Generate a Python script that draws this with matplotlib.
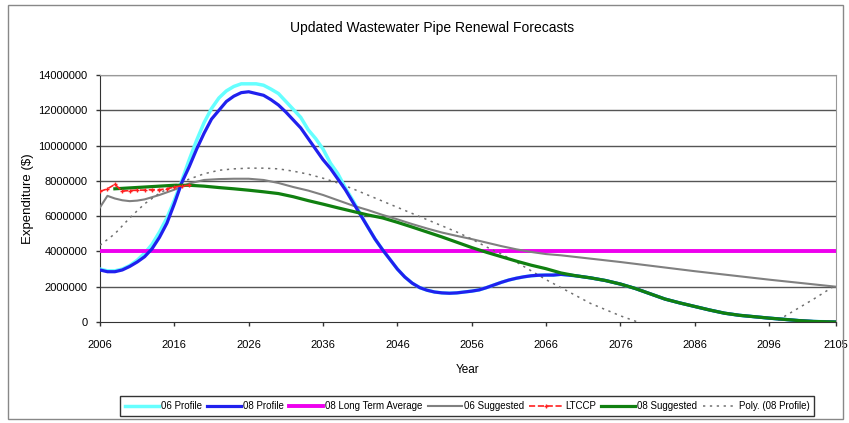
import matplotlib
matplotlib.use("Agg")
import matplotlib.pyplot as plt
from matplotlib.patches import Rectangle

plt.rcParams['font.family'] = ['Liberation Sans', 'DejaVu Sans']

# 06 / 08 profiles (values in $M)
profile_years = [2006, 2007, 2008, 2009, 2010, 2011, 2012, 2013, 2014, 2015,
                 2016, 2017, 2018, 2019, 2020, 2021, 2022, 2023, 2024, 2025,
                 2026, 2027, 2028, 2029, 2030, 2031, 2032, 2033, 2034, 2035,
                 2036, 2037, 2038, 2039, 2040, 2041, 2042, 2043, 2044, 2045,
                 2046, 2047, 2048, 2049, 2050, 2051, 2052, 2053, 2054, 2055,
                 2056, 2057, 2058, 2059, 2060, 2061, 2062, 2063, 2064, 2065,
                 2066, 2067, 2068, 2070, 2072, 2074, 2076, 2078, 2080, 2082,
                 2084, 2086, 2088, 2090, 2092, 2094, 2096, 2098, 2100, 2102, 2105]
profile_06 = [3.0, 2.9, 2.9, 3.0, 3.2, 3.5, 3.9, 4.4, 5.1, 5.9,
              6.9, 8.0, 9.2, 10.3, 11.3, 12.1, 12.7, 13.1, 13.35, 13.5,
              13.5, 13.5, 13.42, 13.2, 12.95, 12.5, 12.05, 11.6, 10.9, 10.4,
              9.8, 9.0, 8.4, 7.6, 6.9, 6.15, 5.4, 4.7, 4.1, 3.55,
              3.0, 2.55, 2.2, 1.95, 1.8, 1.7, 1.65, 1.63, 1.65, 1.7,
              1.75, 1.82, 1.95, 2.1, 2.25, 2.38, 2.48, 2.56, 2.62, 2.65,
              2.66, 2.66, 2.7, 2.62, 2.5, 2.35, 2.15, 1.9, 1.6, 1.3,
              1.08, 0.88, 0.68, 0.5, 0.38, 0.3, 0.22, 0.15, 0.08, 0.03, 0.0]
profile_08 = [2.95, 2.85, 2.85, 2.95, 3.15, 3.4, 3.7, 4.15, 4.8, 5.6,
              6.7, 7.9, 8.8, 9.8, 10.7, 11.5, 12.0, 12.5, 12.8, 13.0,
              13.05, 12.95, 12.85, 12.6, 12.3, 11.9, 11.45, 11.0, 10.4, 9.8,
              9.2, 8.7, 8.1, 7.5, 6.8, 6.1, 5.4, 4.7, 4.1, 3.55,
              3.0, 2.55, 2.2, 1.95, 1.8, 1.7, 1.65, 1.63, 1.65, 1.7,
              1.75, 1.82, 1.95, 2.1, 2.25, 2.38, 2.48, 2.56, 2.62, 2.65,
              2.66, 2.66, 2.7, 2.62, 2.5, 2.35, 2.15, 1.9, 1.6, 1.3,
              1.08, 0.88, 0.68, 0.5, 0.38, 0.3, 0.22, 0.15, 0.08, 0.03, 0.0]

long_term_years = [2006, 2105]
long_term_08 = [4.05, 4.05]

sugg06_years = [2006, 2007, 2008, 2009, 2010, 2011, 2012, 2014, 2016, 2018,
                2020, 2022, 2024, 2026, 2028, 2030, 2032, 2034, 2036, 2038,
                2040, 2042, 2044, 2046, 2048, 2050, 2052, 2054, 2056, 2058,
                2060, 2062, 2064, 2066, 2068, 2076, 2086, 2096, 2105]
sugg06 = [6.5, 7.15, 7.0, 6.9, 6.85, 6.88, 6.95, 7.2, 7.5, 7.85,
          8.05, 8.1, 8.12, 8.12, 8.05, 7.88, 7.65, 7.45, 7.2, 6.9,
          6.6, 6.35, 6.07, 5.82, 5.55, 5.3, 5.07, 4.88, 4.7, 4.5,
          4.3, 4.12, 3.97, 3.85, 3.78, 3.4, 2.88, 2.4, 2.0]

ltccp_years = [2006, 2007, 2008, 2009, 2010, 2011, 2012, 2013, 2014, 2015,
               2016, 2017, 2018]
ltccp = [7.4, 7.55, 7.8, 7.42, 7.45, 7.47, 7.48, 7.5, 7.5, 7.55,
         7.65, 7.72, 7.75]

sugg08_years = [2008, 2010, 2012, 2014, 2016, 2018, 2020, 2022, 2024, 2026,
                2028, 2030, 2032, 2034, 2036, 2038, 2040, 2042, 2044, 2046,
                2048, 2050, 2052, 2054, 2056, 2058, 2060, 2062, 2064, 2066,
                2068, 2070, 2072, 2074, 2076, 2078, 2080, 2082, 2084, 2086,
                2088, 2090, 2092, 2094, 2096, 2098, 2100, 2102, 2105]
sugg08 = [7.55, 7.6, 7.65, 7.7, 7.75, 7.75, 7.7, 7.62, 7.55, 7.47,
          7.38, 7.28, 7.1, 6.88, 6.68, 6.47, 6.27, 6.07, 5.9, 5.65,
          5.38, 5.1, 4.82, 4.52, 4.22, 3.95, 3.7, 3.45, 3.22, 3.02,
          2.78, 2.62, 2.5, 2.35, 2.15, 1.9, 1.6, 1.3, 1.08, 0.88,
          0.68, 0.5, 0.38, 0.3, 0.22, 0.15, 0.08, 0.03, 0.0]

poly_years = [2006, 2008, 2010, 2012, 2014, 2016, 2018, 2020, 2022, 2024,
              2026, 2028, 2030, 2032, 2034, 2036, 2038, 2040, 2042, 2044,
              2046, 2048, 2050, 2052, 2054, 2056, 2058, 2060, 2062, 2064,
              2066, 2068, 2070, 2072, 2074, 2076, 2078, 2080, 2085, 2090,
              2095, 2098, 2100, 2102, 2105]
poly_08 = [4.35, 5.0, 5.9, 6.7, 7.3, 7.75, 8.1, 8.4, 8.6, 8.68,
           8.72, 8.72, 8.68, 8.55, 8.38, 8.15, 7.88, 7.55, 7.2, 6.85,
           6.5, 6.15, 5.8, 5.45, 5.1, 4.7, 4.25, 3.85, 3.4, 2.9,
           2.4, 1.95, 1.5, 1.05, 0.7, 0.35, 0.05, -0.3, -0.9, -1.0,
           -0.5, 0.3, 0.8, 1.3, 2.1]

x_ticks = [2006, 2016, 2026, 2036, 2046, 2056, 2066, 2076, 2086, 2096, 2105]
y_ticks = [0, 2000000, 4000000, 6000000, 8000000, 10000000, 12000000, 14000000]

M = 1e6

fig = plt.figure(figsize=(8.49, 4.23), dpi=100)
ax = fig.add_axes([100 / 849, 1 - 322 / 423, 736 / 849, 247 / 423])

for y in y_ticks[1:]:
    ax.axhline(y, color='#555555', lw=1.0, zorder=1)

ax.plot(profile_years, [v * M for v in profile_06], color='#66ffff', lw=2.5, label='06 Profile', zorder=3)
ax.plot(profile_years, [v * M for v in profile_08], color='#2020ee', lw=2.3, label='08 Profile', zorder=4)
ax.plot(long_term_years, [v * M for v in long_term_08], color='#ee00ee', lw=2.8, label='08 Long Term Average', zorder=3)
ax.plot(sugg06_years, [v * M for v in sugg06], color='#808080', lw=1.5, label='06 Suggested', zorder=3)
ax.plot(ltccp_years, [v * M for v in ltccp], color='#ff2020', lw=1.2, ls='--', marker='+',
        ms=3, label='LTCCP', zorder=6)
ax.plot(sugg08_years, [v * M for v in sugg08], color='#108010', lw=2.3, label='08 Suggested', zorder=5)
ax.plot(poly_years, [v * M for v in poly_08], color='#707070', lw=1.1, ls=(0, (1.5, 3)),
        label='Poly. (08 Profile)', zorder=3)

ax.set_xlim(2006, 2105)
ax.set_ylim(0, 14 * M)
ax.set_xticks(x_ticks)
ax.set_xticklabels([str(t) for t in x_ticks], fontsize=8)
ax.set_yticks(y_ticks)
ax.set_yticklabels([str(t) for t in y_ticks], fontsize=8)
ax.tick_params(direction='out', length=3, width=1, color='#333333')
ax.tick_params(axis='x', pad=10)
ax.tick_params(axis='y', pad=6)
for s in ['left', 'bottom']:
    ax.spines[s].set_color('#333333')
for s in ['top', 'right']:
    ax.spines[s].set_color('#999999')

ax.set_xlabel('Year', fontsize=8.5, labelpad=10)
ax.set_ylabel('Expenditure ($)', fontsize=9.5, labelpad=3)
fig.text(432 / 849, 1 - 28 / 423, 'Updated Wastewater Pipe Renewal Forecasts', ha='center', va='center', fontsize=10)

fig.legend(loc='center', bbox_to_anchor=(467 / 849, 1 - 406 / 423), ncol=7, fontsize=7.0,
           frameon=True, fancybox=False, edgecolor='black', handlelength=3.5,
           columnspacing=0.55, handletextpad=0.2, borderpad=0.5)

fig.add_artist(Rectangle((8 / 849, 4 / 423), 835 / 849, 414 / 423, transform=fig.transFigure,
                         fill=False, ec='#888888', lw=1))

fig.savefig('out.png', dpi=100)
